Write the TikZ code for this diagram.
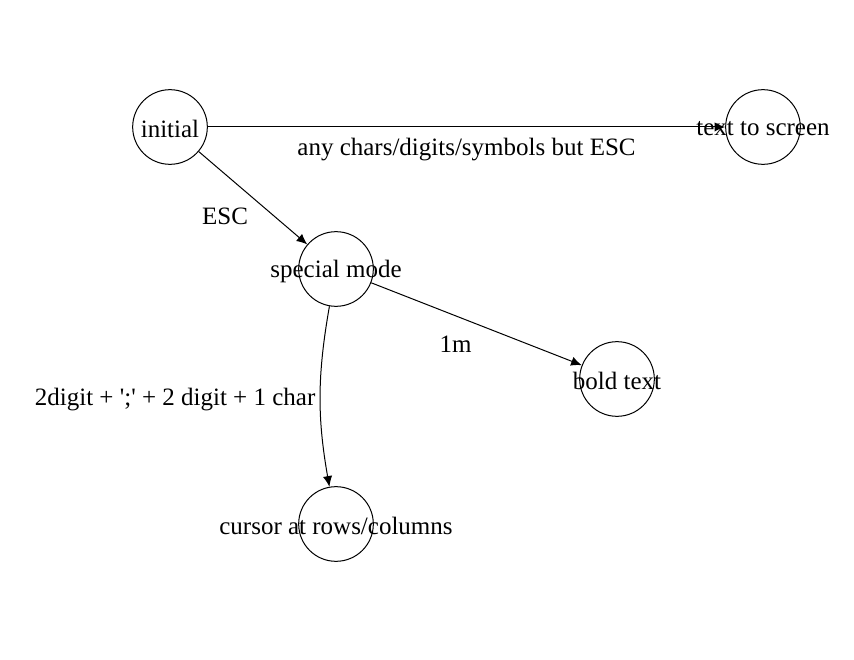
\documentclass[tikz,border=0pt]{standalone}
\usepackage{fontspec}
\setmainfont{Liberation Serif}
\usetikzlibrary{arrows.meta}

\tikzset{
	state/.style={draw, circle, inner sep=0pt, minimum size=56pt, line width=0.75pt},
	statetext/.style={label={[yshift=-1.5pt]center:#1}},
	trans/.style={-{Latex[length=8pt, width=7pt]}, line width=0.75pt}
}

\begin{document}
\begin{tikzpicture}[x=0.75pt, y=-0.75pt, font=\fontsize{18.75pt}{22pt}\selectfont]
			%%%%% START %%%%%
			
			\useasboundingbox (0, 0) rectangle (854, 660);
			
			\node[state, statetext=initial] (init) at (170, 127) {};
			\node[state, statetext=text to screen] (screen) at (763, 127) {};
			\node[state, statetext=special mode] (special) at (336, 269) {};
			\node[state, statetext=bold text] (bold) at (617, 379) {};
			\node[state, statetext=cursor at rows/columns] (cursor) at (336, 524) {};
			
			\draw[trans] (init) -- node[below, yshift=-5pt] {any chars/digits/symbols but ESC} (screen);
			\draw[trans] (init) -- node[below left, yshift=-4pt] {ESC} (special);
			\draw[trans] (special) -- node[below left, yshift=-5pt] {1m} (bold);
			\draw[trans] (special) to[bend right=10] node[left, yshift=-2pt] {2digit + \textquotesingle;\textquotesingle{} + 2 digit + 1 char} (cursor);
			
			%%%%% END %%%%%
		\end{tikzpicture}
\end{document}
